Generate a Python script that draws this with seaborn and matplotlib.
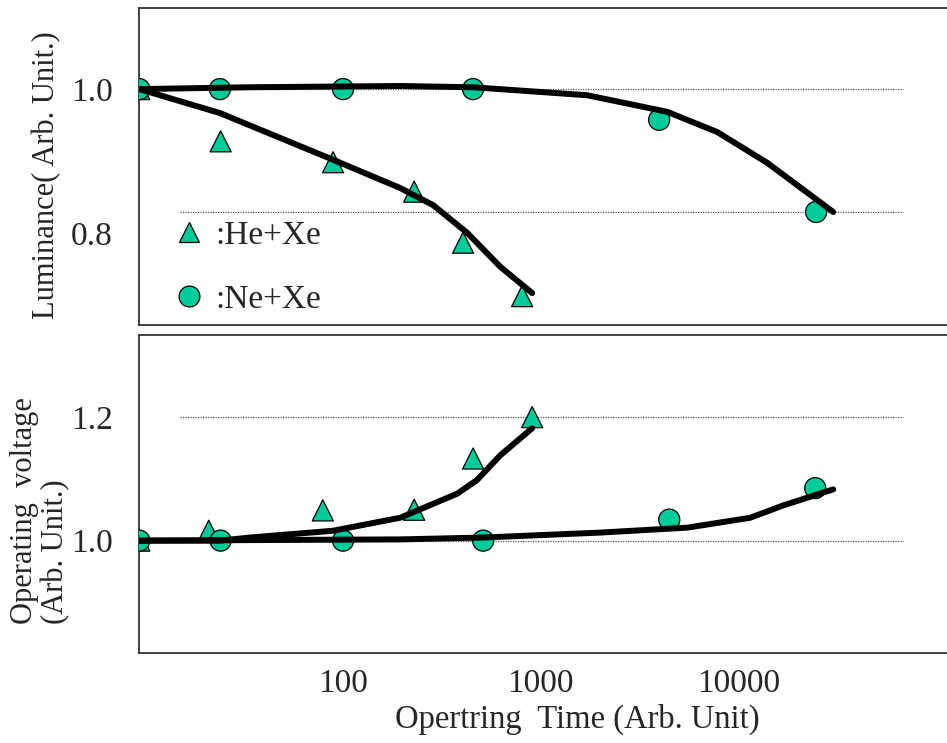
import numpy as np
import pandas as pd
import matplotlib
matplotlib.use("Agg")
import matplotlib.pyplot as plt
import matplotlib.transforms as mtransforms
from matplotlib.lines import Line2D
import seaborn as sns

# ---------------- data ----------------
# Luminance panel
lum_he_t = [9.3, 24, 89, 229, 405, 806]
lum_he_v = [1.0, 0.915, 0.881, 0.833, 0.750, 0.663]
lum_ne_t = [9.3, 23.8, 100, 455, 3980, 24800]
lum_ne_v = [1.0, 1.0, 1.0, 1.0, 0.950, 0.800]

lum_he_fit_t = [9.3, 23.8, 89, 194.5, 286, 425, 624, 906]
lum_he_fit_v = [1.0, 0.961, 0.885, 0.839, 0.811, 0.766, 0.711, 0.668]
lum_ne_fit_t = [9.3, 33.8, 194.5, 455, 1718, 4375, 7840, 14030, 30270]
lum_ne_fit_v = [1.0, 1.003, 1.005, 1.003, 0.990, 0.963, 0.930, 0.880, 0.800]

# Operating voltage panel
vol_he_t = [9.3, 20.9, 79, 229, 455, 906]
vol_he_v = [1.0, 1.016, 1.049, 1.050, 1.133, 1.200]
vol_ne_t = [9.3, 24, 100, 512, 4480, 24550]
vol_ne_v = [1.0, 1.0, 1.0, 1.0, 1.034, 1.085]

vol_he_fit_t = [9.3, 23.8, 33.8, 89, 194.5, 378, 476, 624, 906]
vol_he_fit_v = [1.0, 1.0, 1.005, 1.016, 1.037, 1.076, 1.098, 1.138, 1.182]
vol_ne_fit_t = [9.3, 194.5, 512, 2000, 5520, 11500, 16900, 30270]
vol_ne_fit_v = [1.0, 1.002, 1.005, 1.013, 1.021, 1.037, 1.057, 1.083]

gases = [":He+Xe", ":Ne+Xe"]
x_ticks = [100, 1000, 10000]
x_tick_labels = ["100", "1000", "10000"]
lum_ticks = [0.7, 0.8, 0.9, 1.0]
lum_tick_labels = ["", "0.8", "", "1.0"]
vol_ticks = [0.9, 1.0, 1.1, 1.2]
vol_tick_labels = ["", "1.0", "", "1.2"]

# ---------------- styling ----------------
sns.set_theme(style="white")
plt.rcParams["font.family"] = ["Liberation Serif", "DejaVu Serif"]

MARK = "#00CC99"
FS = 24
FS_Y = 22
FS_X = 23.5

fig = plt.figure(figsize=(9.47, 7.43), dpi=100)
W, H = 947, 743
def ax_rect(l, t, r, b):
    return [l / W, 1 - b / H, (r - l) / W, (b - t) / H]

ax1 = fig.add_axes(ax_rect(139, 8, 947, 325))
ax2 = fig.add_axes(ax_rect(139, 335, 947, 653))

def scatter_df(t_he, v_he, t_ne, v_ne):
    return pd.DataFrame({
        "t": list(t_he) + list(t_ne),
        "v": list(v_he) + list(v_ne),
        "gas": [gases[0]] * len(t_he) + [gases[1]] * len(t_ne),
    })

def draw(ax, t_he, v_he, t_ne, v_ne, ft_he, fv_he, ft_ne, fv_ne):
    df = scatter_df(t_he, v_he, t_ne, v_ne)
    sns.scatterplot(data=df, x="t", y="v", style="gas",
                    markers={gases[0]: "^", gases[1]: "o"},
                    color=MARK, edgecolor="black", linewidth=0.9,
                    s=230, legend=False, ax=ax, zorder=3)
    sns.lineplot(x=ft_he, y=fv_he, color="black", linewidth=4.3,
                 estimator=None, sort=False, ax=ax, zorder=4)
    sns.lineplot(x=ft_ne, y=fv_ne, color="black", linewidth=4.3,
                 estimator=None, sort=False, ax=ax, zorder=4)

draw(ax1, lum_he_t, lum_he_v, lum_ne_t, lum_ne_v,
     lum_he_fit_t, lum_he_fit_v, lum_ne_fit_t, lum_ne_fit_v)
draw(ax2, vol_he_t, vol_he_v, vol_ne_t, vol_ne_v,
     vol_he_fit_t, vol_he_fit_v, vol_ne_fit_t, vol_ne_fit_v)

for ax in (ax1, ax2):
    ax.set_xscale("log")
    ax.set_xlim(9.27, 114000)
    ax.set_xticks(x_ticks)
    ax.xaxis.set_minor_locator(matplotlib.ticker.NullLocator())
    ax.tick_params(axis="both", which="major", direction="in", length=14,
                   width=1.0, color="black", labelsize=FS)
    ax.tick_params(axis="y", pad=19)
    ax.tick_params(axis="x", pad=11)
    ax.spines["right"].set_visible(False)
    for s in ("left", "top", "bottom"):
        ax.spines[s].set_color("#333333")
        ax.spines[s].set_linewidth(1.3)
    ax.set_xlabel("")
    ax.set_ylabel("")

ax1.set_ylim(0.616, 1.132)
ax2.set_ylim(0.818, 1.333)

ax1.set_xticklabels([])
ax2.set_xticklabels(x_tick_labels)
ax1.set_yticks(lum_ticks)
ax1.set_yticklabels(lum_tick_labels)
ax2.set_yticks(vol_ticks)
ax2.set_yticklabels(vol_tick_labels)

# the "0.8" label sits a bit below its tick in the original
lab08 = ax1.get_yticklabels()[1]
lab08.set_transform(lab08.get_transform() +
                    mtransforms.ScaledTranslation(0, -0.21, fig.dpi_scale_trans))

# dotted reference lines
for ax, levels in ((ax1, [1.0, 0.8]), (ax2, [1.0, 1.2])):
    for lv in levels:
        ax.axhline(lv, xmin=0.0507, xmax=0.9455, color="#555555",
                   linestyle=(0, (1, 1)), linewidth=0.9, zorder=1)

# axis labels
ax1.set_ylabel("Luminance( Arb. Unit.)", fontsize=FS_Y)
ax1.yaxis.set_label_coords(-0.096, 0.473)
ax2.set_ylabel("Operating  voltage\n(Arb. Unit.)", fontsize=FS_Y,
               multialignment="left", linespacing=1.1)
ax2.yaxis.set_label_coords(-0.085, 0.447)
ax2.set_xlabel("Opertring  Time (Arb. Unit)", fontsize=FS_X)
ax2.xaxis.set_label_coords(0.543, -0.16)

# legend
handles = [
    Line2D([], [], marker="^", linestyle="none", markerfacecolor=MARK,
           markeredgecolor="black", markeredgewidth=0.9, markersize=15),
    Line2D([], [], marker="o", linestyle="none", markerfacecolor=MARK,
           markeredgecolor="black", markeredgewidth=0.9, markersize=15),
]
ax1.legend(handles, gases, loc="upper left", bbox_to_anchor=(0.045, 0.33),
           frameon=False, fontsize=FS, handlelength=0.8, handletextpad=0.4,
           labelspacing=1.0, borderpad=0, borderaxespad=0)

fig.savefig("out.png", dpi=100)
